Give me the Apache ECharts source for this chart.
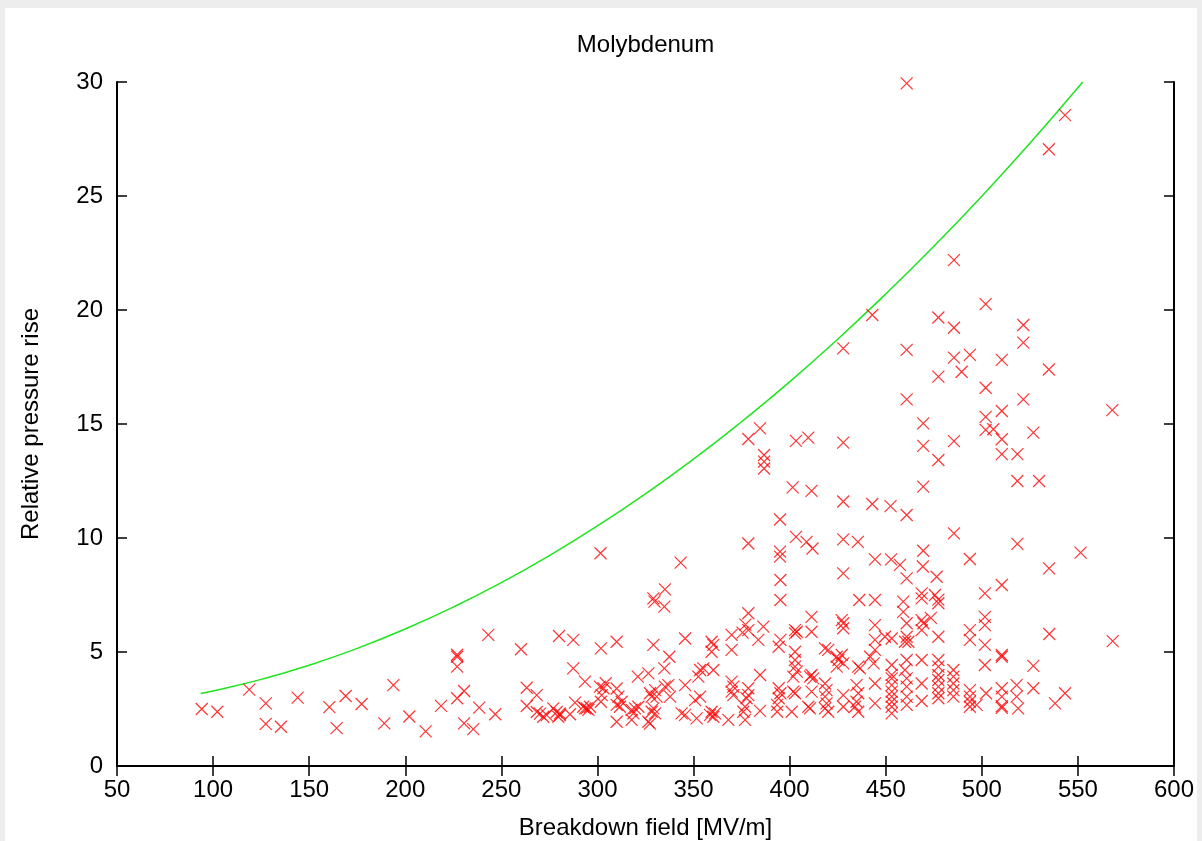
<!DOCTYPE html>
<html>
<head>
<meta charset="utf-8">
<script src="https://cdn.jsdelivr.net/npm/echarts@6/dist/echarts.min.js"></script>
<style>
html,body{margin:0;padding:0;width:1202px;height:841px;background:#ededed;overflow:hidden;}
#bg{position:absolute;left:5px;top:8px;width:1192px;height:833px;background:#fff;}
#chart{position:absolute;left:0;top:0;width:1202px;height:841px;}
</style>
</head>
<body>
<div id="bg"></div>
<div id="chart"></div>
<script>
const chartTitle = 'Molybdenum';
const xAxisName = 'Breakdown field [MV/m]';
const yAxisName = 'Relative pressure rise';

// Scatter points (breakdown field, relative pressure rise)
const breakdownField = [
94.1,102.2,118.8,127.4,127.4,135.3,144,160.5,164.3,169,177.3,189.1,193.8,202.1,210.6,218.6,
227,227,227,227,230.6,230.6,235.4,238.5,243.2,246.8,260.2,263.2,263.2,268.4,268.4,270.1,271.8,273.6,277,278.8,280.5,279.6,280.5,280,287.4,287.4,288.3,285.7,
293.5,292.6,294.4,296.1,295.3,293.5,301.8,301.3,303.1,304.3,302.2,301.8,301.6,310,310,310.9,312.6,310,311.7,310,317.8,319.5,321.3,318.7,317.8,321,326.5,329.1,329.7,335.1,334.8,329.1,327.3,330,328.2,330.8,329.1,328.2,330,326.5,327.3,334.8,337.4,335.1,336.9,337.8,343.3,345.6,345.6,343.8,345.6,351.6,350.8,353.4,353.4,355.1,352.5,359.4,360.3,359.4,360.3,359.4,361.2,360.3,358.6,368.1,369.8,369.8,369.8,370.7,369.8,370.7,
378.5,378.5,377,375.5,378.5,378.5,377.6,376.8,375.9,376.8,383.7,386.3,384.6,384.6,
378.5,378.5,384.6,386.7,386.7,386.7,
395,395,395,395.2,395.2,395.2,394.3,394.3,395.2,394.3,393.5,393.5,
401.1,401.9,402.8,402.8,402.8,403.7,402.8,402.8,402.8,403.7,401.9,403.3,401.6,403.3,
409.7,411.4,408.8,411.9,411.4,411.4,411.4,410.6,412.3,411.4,409.7,410.6,
418.4,420.1,418.4,419.2,418.4,419.2,418.4,420.1,
424.5,427.1,425.4,427.9,424.5,427.9,427.9,427.9,427.9,427.9,427.9,427.9,427.1,427.9,427.9,
435.7,436.6,436.2,435.5,434.8,435.7,434.8,434,435.7,
443,443,444.4,444.4,444.4,444.4,444.4,441.9,443.7,444.4,444.4,
449.6,452.5,452.8,453.1,453.1,453.1,453.1,453.1,453.1,453.1,453.1,453.1,453.1,457.4,
460.9,460.9,460.9,460.9,460.9,459.1,459.1,460.9,460.9,460,461.8,460.9,460,460.9,460.9,460.9,460.9,
469.5,469.5,469.5,469.5,469.3,468.7,468.7,468.7,469.6,468.7,468.7,468.7,468.7,473.5,
477.4,477.4,477.4,476.5,475.6,477.4,477.4,477.4,477.4,477.4,477.4,477.4,477.4,477.4,477.4,
485.5,485.5,485.5,485.5,485.5,485.2,485.2,485.2,485.2,485.2,489.5,
493.8,493.8,493.8,493.8,493.8,493.8,493.8,493.8,497.3,
502,502,502,502,506,501.6,501.6,501.6,501.6,501.6,502.2,
510.4,510.4,510.4,510.4,510.4,510.4,510.4,510.4,510.4,510.4,510.4,
518.5,518.5,518.5,518.1,518.1,518.9,
521.6,521.6,521.6,526.8,526.8,526.8,529.8,
534.9,534.9,535,535.1,538.1,543.3,543.3,551.4,567.9,568.1
];
const pressureRise = [
2.50,2.38,3.35,2.75,1.85,1.72,3.0,2.58,1.66,3.07,2.72,1.87,3.55,2.17,1.52,2.64,
4.88,4.79,4.36,2.97,3.29,1.87,1.62,2.56,5.75,2.27,5.12,3.43,2.63,3.11,2.37,2.30,2.16,2.23,2.53,2.37,2.31,2.16,2.23,5.70,5.53,4.28,2.78,2.27,
3.70,2.60,2.53,2.60,2.46,2.53,5.16,3.48,3.41,3.63,3.11,2.82,9.33,5.45,3.40,3.04,2.82,2.68,2.60,1.94,2.46,2.53,2.60,2.31,2.02,3.92,4.06,7.35,7.21,7.75,6.99,5.31,3.19,3.33,3.04,3.04,2.53,2.38,2.31,1.94,1.86,4.28,4.79,3.48,3.55,3.04,8.92,5.59,3.55,2.31,2.24,2.09,2.89,3.04,4.21,4.28,3.92,5.45,5.31,5.01,4.21,2.38,2.31,2.16,2.24,2.02,5.75,5.09,3.70,3.48,3.26,3.11,
6.70,5.96,6.2,5.85,3.41,3.11,2.97,2.60,2.38,2.02,5.53,6.11,3.99,2.42,
9.76,14.34,14.81,13.64,13.35,13.05,
10.81,9.40,9.18,8.16,7.28,5.53,5.23,3.41,3.19,2.97,2.68,2.38,
2.38,3.26,3.19,5.96,5.82,5.89,5.01,4.65,4.36,4.14,3.92,14.26,12.22,10.05,
14.40,12.07,9.83,9.54,6.54,5.89,3.99,3.92,3.84,3.26,2.60,2.53,
5.16,5.09,3.62,3.33,3.04,2.75,2.53,2.38,
4.79,4.87,4.65,4.50,4.36,18.32,14.18,11.60,9.94,8.45,6.26,6.04,6.40,3.11,2.60,
4.36,4.28,7.28,9.83,3.55,3.19,2.82,2.60,2.38,
19.78,11.49,9.06,7.28,6.18,5.53,5.09,4.79,4.50,3.62,2.75,
5.67,11.40,9.06,5.59,4.43,4.0,3.84,3.55,3.26,3.04,2.82,2.60,2.31,8.82,
29.94,18.25,16.08,11.01,8.23,7.21,6.76,6.26,5.67,5.45,5.45,4.65,4.21,3.84,3.48,3.04,2.68,
15.03,14.04,12.25,9.44,8.75,7.57,7.35,6.40,6.26,5.96,4.65,3.62,2.85,6.5,
19.67,17.08,13.42,8.3,7.5,7.3,7.14,5.67,4.65,4.36,3.99,3.77,3.48,3.19,2.97,
22.19,19.22,17.91,14.25,10.20,4.21,3.92,3.62,3.33,3.04,17.29,
18.03,9.08,5.96,5.53,3.33,3.04,2.82,2.60,2.68,
20.26,16.59,15.31,14.74,14.77,7.57,6.54,6.18,5.31,4.43,3.19,
17.81,15.57,14.33,13.68,7.94,4.87,4.79,3.41,3.04,2.62,2.55,
13.68,12.50,9.74,3.55,3.04,2.53,
19.34,18.57,16.08,14.62,4.39,3.41,12.50,
27.05,17.39,8.67,5.79,2.75,3.19,28.55,9.36,15.61,5.48
];

// Green envelope curve
const curveField = [93.5,100,125,150,175,200,225,250,275,300,325,350,375,400,425,450,475,500,525,552.5];
const curveRise  = [3.18,3.29,3.80,4.42,5.16,6.01,6.97,8.04,9.23,10.53,11.94,13.46,15.10,16.85,18.72,20.70,22.79,24.99,27.31,30.0];

const xTicks = {min: 50, max: 600, step: 50};
const yTicks = {min: 0, max: 30, step: 5};

const scatterData = breakdownField.map((x, i) => [x, pressureRise[i]]);
const curveData = curveField.map((x, i) => [x, curveRise[i]]);

const FONT = 'Liberation Sans';
const FS = 24;
const chart = echarts.init(document.getElementById('chart'), null, {renderer: 'canvas'});

const mirrorAxisCommon = {
  axisLine: {show: true, lineStyle: {color: '#000', width: 2}},
  axisTick: {show: true, inside: true, length: 10, lineStyle: {color: '#000', width: 1.5}},
  axisLabel: {show: false},
  splitLine: {show: false}
};

chart.setOption({
  backgroundColor: 'transparent',
  animation: false,
  title: {
    text: chartTitle,
    left: 645.5,
    textAlign: 'center',
    top: 33,
    padding: 0,
    textStyle: {fontFamily: FONT, fontSize: FS, fontWeight: 'normal', color: '#000'}
  },
  grid: {left: 117, right: 28, top: 82, bottom: 75, containLabel: false, outerBoundsMode: 'none'},
  xAxis: [
    {
      type: 'value', min: xTicks.min, max: xTicks.max, interval: xTicks.step,
      position: 'bottom',
      name: xAxisName, nameLocation: 'middle', nameGap: 50,
      nameTextStyle: {fontFamily: FONT, fontSize: FS, color: '#000'},
      axisLine: {show: true, onZero: false, lineStyle: {color: '#000', width: 2}},
      axisTick: {show: true, inside: true, length: 10, lineStyle: {color: '#000', width: 1.5}},
      axisLabel: {fontFamily: FONT, fontSize: FS, color: '#000', margin: 12},
      splitLine: {show: false}
    },
    Object.assign({type: 'value', min: xTicks.min, max: xTicks.max, interval: xTicks.step, position: 'top'}, mirrorAxisCommon)
  ],
  yAxis: [
    {
      type: 'value', min: yTicks.min, max: yTicks.max, interval: yTicks.step,
      position: 'left',
      name: yAxisName, nameLocation: 'middle', nameGap: 74, nameRotate: 90,
      nameTextStyle: {fontFamily: FONT, fontSize: FS, color: '#000'},
      axisLine: {show: true, onZero: false, lineStyle: {color: '#000', width: 2}},
      axisTick: {show: true, inside: true, length: 10, lineStyle: {color: '#000', width: 1.5}},
      axisLabel: {fontFamily: FONT, fontSize: FS, color: '#000', margin: 14},
      splitLine: {show: false}
    },
    Object.assign({type: 'value', min: yTicks.min, max: yTicks.max, interval: yTicks.step, position: 'right'}, mirrorAxisCommon)
  ],
  series: [
    {
      type: 'scatter',
      data: scatterData,
      symbol: 'path://M0,0L10,10M10,0L0,10',
      symbolSize: 12,
      itemStyle: {color: 'rgba(0,0,0,0)', borderColor: '#ff0000', borderWidth: 1.2},
      silent: true,
      z: 3
    },
    {
      type: 'line',
      data: curveData,
      smooth: true,
      showSymbol: false,
      symbol: 'none',
      lineStyle: {color: '#1ee51e', width: 1.5},
      silent: true,
      z: 2
    }
  ]
});
</script>
</body>
</html>
